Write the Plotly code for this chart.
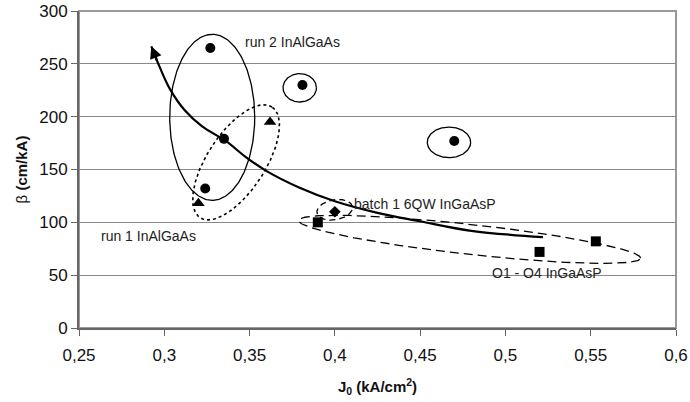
import numpy as np
import plotly.graph_objects as go

# ---------------- data ----------------
circle_x = [0.327, 0.381, 0.470, 0.335, 0.324]
circle_y = [265, 230, 177, 179, 132]
triangle_x = [0.320, 0.362]
triangle_y = [118, 195]
square_x = [0.390, 0.520, 0.553]
square_y = [100, 72, 82]
diamond_x = [0.400]
diamond_y = [110]

trend_x = [0.2924, 0.296, 0.303, 0.312, 0.322, 0.336, 0.348, 0.360, 0.379, 0.400, 0.425, 0.450, 0.480, 0.522]
trend_y = [266.6, 252, 227, 206, 191, 177, 161.5, 148.5, 133, 120, 109, 101, 92, 86]

x_ticks = [0.25, 0.3, 0.35, 0.4, 0.45, 0.5, 0.55, 0.6]
x_tick_labels = ["0,25", "0,3", "0,35", "0,4", "0,45", "0,5", "0,55", "0,6"]
y_ticks = [0, 50, 100, 150, 200, 250, 300]

# group outlines: centre (data), semi-axes (px), tilt (deg)
ell_cx = [0.3281, 0.3794, 0.4669, 0.3421, 0.3999, 0.479]
ell_cy = [199.4, 227.3, 175.7, 156.8, 111.9, 83.9]
ell_a = [42.5, 16.7, 21.7, 66, 18, 172]
ell_b = [83, 14.2, 15.3, 29, 10, 15]
ell_ang = [0, 0, 0, 57, 10, -6.3]
ell_dash = ["solid", "solid", "solid", "dot", "6px,4px", "9px,5px"]

group_labels = ["run 2 InAlGaAs", "run 1 InAlGaAs", "batch 1 6QW InGaAsP", "O1 - O4 InGaAsP"]
label_x = [0.3467, 0.2625, 0.4106, 0.4917]
label_y = [270.4, 86.8, 117.7, 52.3]

# ---------------- layout geometry ----------------
W, H = 690, 402
ML, MR, MT, MB = 79, 14, 11, 74
XR = [0.25, 0.6]
YR = [0, 300]
kx = (W - ML - MR) / (XR[1] - XR[0])
ky = (H - MT - MB) / (YR[1] - YR[0])

FONT = "Liberation Sans, Arial"

fig = go.Figure()

t = np.linspace(0, 2 * np.pi, 241)
for cx, cy, a, b, ang, dsh in zip(ell_cx, ell_cy, ell_a, ell_b, ell_ang, ell_dash):
    th = np.deg2rad(ang)
    u = a * np.cos(t)
    v = b * np.sin(t)
    dx = u * np.cos(th) - v * np.sin(th)
    dy = u * np.sin(th) + v * np.cos(th)
    fig.add_trace(go.Scatter(
        x=cx + dx / kx, y=cy + dy / ky, mode="lines",
        line=dict(color="black", width=1.6 if dsh == "dot" else 1.3, dash=dsh),
        hoverinfo="skip", showlegend=False))

fig.add_trace(go.Scatter(x=trend_x, y=trend_y, mode="lines",
                         line=dict(color="black", width=2.2, shape="spline", smoothing=1.0),
                         showlegend=False))

fig.add_trace(go.Scatter(x=circle_x, y=circle_y, mode="markers",
                         marker=dict(symbol="circle", size=10, color="black"), showlegend=False))
fig.add_trace(go.Scatter(x=triangle_x, y=triangle_y, mode="markers",
                         marker=dict(symbol="triangle-up", size=11, color="black"), showlegend=False))
fig.add_trace(go.Scatter(x=square_x, y=square_y, mode="markers",
                         marker=dict(symbol="square", size=10, color="black"), showlegend=False))
fig.add_trace(go.Scatter(x=diamond_x, y=diamond_y, mode="markers",
                         marker=dict(symbol="diamond", size=9, color="black"), showlegend=False))

# arrow head at the start of the trend line
fig.add_annotation(x=trend_x[0], y=trend_y[0], ax=trend_x[1], ay=trend_y[1],
                   xref="x", yref="y", axref="x", ayref="y", text="",
                   showarrow=True, arrowhead=2, arrowsize=1.1, arrowwidth=2.2, arrowcolor="black")

for txt, lx, ly in zip(group_labels, label_x, label_y):
    fig.add_annotation(x=lx, y=ly, xref="x", yref="y", text=txt, showarrow=False,
                       xanchor="left", yanchor="middle", borderpad=0,
                       font=dict(family=FONT, size=14, color="#222"))

# plot border
fig.add_shape(type="rect", xref="paper", yref="paper", x0=0, x1=1, y0=0, y1=1,
              line=dict(color="#999", width=2), layer="below")

fig.update_xaxes(range=XR, tickvals=x_ticks, ticktext=x_tick_labels,
                 showgrid=False, zeroline=False, showline=True, linecolor="#666", linewidth=2,
                 ticks="outside", ticklen=6, tickcolor="#666", tickwidth=1,
                 ticklabelstandoff=5,
                 tickfont=dict(family=FONT, size=17, color="#111"),
                 title=dict(text="<b>J<sub>0</sub> (kA/cm<sup>2</sup>)</b>", standoff=17,
                            font=dict(family=FONT, size=15, color="#111")))
fig.update_yaxes(range=YR, tickvals=y_ticks,
                 showgrid=True, gridcolor="#888", gridwidth=1,
                 zeroline=False, showline=True, linecolor="#666", linewidth=2,
                 ticks="outside", ticklen=6, tickcolor="#666", tickwidth=1,
                 tickfont=dict(family=FONT, size=17, color="#111"),
                 title=dict(text="β <b>(cm/kA)</b>", standoff=8,
                            font=dict(family=FONT, size=15, color="#111")))

fig.update_layout(width=W, height=H, margin=dict(l=ML, r=MR, t=MT, b=MB, autoexpand=False),
                  plot_bgcolor="white", paper_bgcolor="white", showlegend=False)

fig.write_html("out.html", config={"displayModeBar": False},
               post_script="document.body.style.margin='0';")
